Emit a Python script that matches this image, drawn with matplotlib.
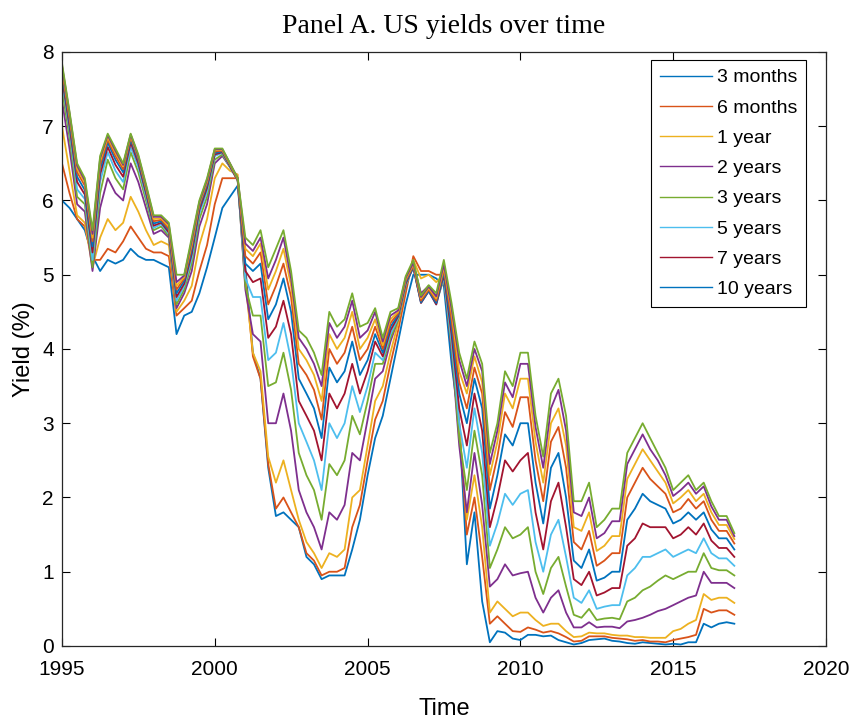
import numpy as np
import pandas as pd
import matplotlib
matplotlib.use('Agg')
import matplotlib.pyplot as plt
import matplotlib.dates as mdates

# Quarterly observation dates
dates = pd.date_range('1995-01-01', '2017-01-01', freq='QS')

# Yields (%) by maturity, shortest to longest
y_3m = [6.0, 5.9, 5.75, 5.6, 5.25, 5.05, 5.2, 5.15, 5.2, 5.35,
        5.25, 5.2, 5.2, 5.15, 5.1, 4.2, 4.45, 4.5, 4.75, 5.1,
        5.5, 5.9, 6.05, 6.2, 5.1, 3.95, 3.6, 2.4, 1.75, 1.8,
        1.7, 1.6, 1.2, 1.1, 0.9, 0.95, 0.95, 0.95, 1.3, 1.7,
        2.3, 2.8, 3.1, 3.6, 4.1, 4.6, 5.0, 5.0, 5.0, 4.95,
        4.85, 3.8, 3.0, 1.1, 1.8, 0.6, 0.05, 0.2, 0.18, 0.1,
        0.08, 0.15, 0.15, 0.13, 0.14, 0.08, 0.05, 0.02, 0.04, 0.08,
        0.09, 0.1, 0.07, 0.06, 0.04, 0.03, 0.05, 0.04, 0.03, 0.02,
        0.03, 0.02, 0.05, 0.05, 0.3, 0.25, 0.3, 0.32, 0.3]
y_6m = [6.5, 6.1, 5.75, 5.65, 5.2, 5.2, 5.35, 5.3, 5.45, 5.65,
        5.5, 5.35, 5.3, 5.3, 5.25, 4.45, 4.55, 4.65, 5.05, 5.4,
        5.95, 6.3, 6.3, 6.3, 5.0, 3.9, 3.6, 2.45, 1.85, 2.0,
        1.8, 1.6, 1.25, 1.15, 0.95, 1.0, 1.0, 1.05, 1.6, 1.9,
        2.5, 3.05, 3.3, 3.8, 4.25, 4.75, 5.25, 5.05, 5.05, 5.0,
        5.0, 4.0, 3.0, 1.5, 2.0, 1.2, 0.3, 0.4, 0.3, 0.2,
        0.19, 0.25, 0.22, 0.18, 0.2, 0.17, 0.12, 0.06, 0.07, 0.13,
        0.13, 0.13, 0.11, 0.1, 0.09, 0.07, 0.08, 0.06, 0.06, 0.05,
        0.08, 0.1, 0.12, 0.15, 0.5, 0.45, 0.48, 0.48, 0.42]
y_1y = [7.0, 6.4, 5.8, 5.7, 5.1, 5.5, 5.75, 5.6, 5.7, 6.05,
        5.85, 5.6, 5.4, 5.45, 5.4, 4.5, 4.65, 4.85, 5.4, 5.75,
        6.3, 6.5, 6.4, 6.35, 4.9, 3.95, 3.7, 2.55, 2.2, 2.5,
        2.1, 1.7, 1.4, 1.25, 1.05, 1.25, 1.2, 1.3, 2.0, 2.1,
        2.7, 3.3, 3.5, 3.95, 4.35, 4.85, 5.2, 4.95, 5.0, 4.9,
        5.0, 4.1, 2.9, 1.7, 2.3, 1.6, 0.45, 0.6, 0.5, 0.4,
        0.45, 0.45, 0.35, 0.27, 0.3, 0.3, 0.2, 0.12, 0.13, 0.18,
        0.17, 0.17, 0.15, 0.14, 0.14, 0.12, 0.12, 0.11, 0.11, 0.11,
        0.2, 0.23, 0.3, 0.35, 0.7, 0.62, 0.65, 0.65, 0.58]
y_2y = [7.35, 6.7, 5.95, 5.85, 5.05, 5.9, 6.3, 6.1, 6.0, 6.5,
        6.25, 5.9, 5.55, 5.6, 5.5, 4.55, 4.75, 5.05, 5.65, 5.95,
        6.5, 6.6, 6.45, 6.3, 4.8, 4.2, 4.1, 3.0, 3.0, 3.4,
        2.9, 2.1, 1.8, 1.6, 1.3, 1.8, 1.7, 1.9, 2.6, 2.5,
        3.05, 3.6, 3.7, 4.1, 4.4, 4.85, 5.15, 4.75, 4.85, 4.7,
        4.95, 4.0, 2.7, 1.8, 2.6, 1.9, 0.8, 0.9, 1.1, 0.95,
        0.98, 1.0, 0.65, 0.45, 0.65, 0.75, 0.45, 0.25, 0.25, 0.32,
        0.25, 0.26, 0.26, 0.24, 0.33, 0.35, 0.38, 0.42, 0.47, 0.5,
        0.55, 0.6, 0.65, 0.68, 1.0, 0.85, 0.85, 0.85, 0.78]
y_3y = [7.5, 6.85, 6.05, 5.95, 5.1, 6.1, 6.55, 6.3, 6.15, 6.65,
        6.38, 6.0, 5.6, 5.65, 5.52, 4.6, 4.8, 5.15, 5.75, 6.05,
        6.55, 6.62, 6.45, 6.28, 4.85, 4.45, 4.45, 3.5, 3.55, 3.95,
        3.45, 2.6, 2.3, 2.1, 1.7, 2.45, 2.3, 2.5, 3.1, 2.85,
        3.3, 3.8, 3.8, 4.15, 4.4, 4.85, 5.12, 4.65, 4.8, 4.62,
        4.95, 4.05, 2.8, 2.1, 2.9, 2.3, 1.05, 1.3, 1.6, 1.45,
        1.5, 1.6, 1.0, 0.7, 1.05, 1.2, 0.8, 0.42, 0.38, 0.5,
        0.35, 0.37, 0.38, 0.36, 0.6, 0.65, 0.75, 0.8, 0.88, 0.95,
        0.9, 0.95, 1.0, 1.0, 1.25, 1.05, 1.02, 1.02, 0.95]
y_4y = [7.6, 6.95, 6.15, 6.02, 5.2, 6.25, 6.65, 6.4, 6.25, 6.72,
        6.45, 6.06, 5.63, 5.68, 5.55, 4.65, 4.85, 5.22, 5.82, 6.12,
        6.6, 6.64, 6.45, 6.27, 4.95, 4.7, 4.7, 3.85, 3.95, 4.35,
        3.85, 3.0, 2.75, 2.5, 2.1, 3.0, 2.8, 3.0, 3.5, 3.15,
        3.5, 3.95, 3.85, 4.2, 4.42, 4.86, 5.1, 4.62, 4.78, 4.6,
        4.97, 4.1, 3.0, 2.4, 3.2, 2.6, 1.35, 1.65, 2.05, 1.9,
        2.05, 2.1, 1.4, 1.0, 1.5, 1.7, 1.2, 0.65, 0.58, 0.75,
        0.5, 0.53, 0.55, 0.55, 0.95, 1.05, 1.2, 1.2, 1.25, 1.3,
        1.2, 1.25, 1.3, 1.25, 1.45, 1.25, 1.18, 1.18, 1.08]
y_5y = [7.65, 7.0, 6.25, 6.08, 5.3, 6.35, 6.72, 6.48, 6.32, 6.78,
        6.5, 6.1, 5.66, 5.7, 5.57, 4.7, 4.88, 5.28, 5.87, 6.17,
        6.62, 6.65, 6.46, 6.27, 5.05, 4.9, 4.95, 4.15, 4.3, 4.65,
        4.2, 3.3, 3.1, 2.9, 2.5, 3.4, 3.2, 3.4, 3.8, 3.4,
        3.7, 4.1, 3.9, 4.25, 4.44, 4.88, 5.1, 4.62, 4.78, 4.6,
        5.0, 4.2, 3.2, 2.7, 3.4, 2.9, 1.6, 2.0, 2.5, 2.35,
        2.5, 2.6, 1.8, 1.3, 1.95, 2.2, 1.6, 0.9, 0.82, 1.0,
        0.68, 0.72, 0.78, 0.78, 1.35, 1.45, 1.65, 1.6, 1.6, 1.6,
        1.45, 1.5, 1.6, 1.5, 1.65, 1.42, 1.32, 1.32, 1.2]
y_6y = [7.7, 7.05, 6.32, 6.14, 5.38, 6.42, 6.78, 6.55, 6.38, 6.82,
        6.54, 6.13, 5.69, 5.72, 5.6, 4.75, 4.92, 5.33, 5.91, 6.21,
        6.64, 6.66, 6.47, 6.28, 5.15, 5.05, 5.15, 4.4, 4.6, 4.95,
        4.5, 3.6, 3.4, 3.2, 2.8, 3.75, 3.55, 3.7, 4.1, 3.65,
        3.85, 4.2, 3.95, 4.3, 4.46, 4.9, 5.1, 4.63, 4.78, 4.62,
        5.03, 4.3, 3.4, 3.0, 3.6, 3.2, 1.85, 2.3, 2.85, 2.7,
        3.0, 3.0, 2.2, 1.65, 2.4, 2.6, 2.0, 1.15, 1.05, 1.3,
        0.88, 0.92, 1.0, 1.0, 1.7, 1.85, 2.05, 1.95, 1.9, 1.85,
        1.65, 1.7, 1.8, 1.7, 1.8, 1.57, 1.45, 1.45, 1.3]
y_7y = [7.75, 7.1, 6.38, 6.2, 5.45, 6.48, 6.82, 6.6, 6.42, 6.85,
        6.57, 6.16, 5.72, 5.74, 5.62, 4.8, 4.95, 5.38, 5.94, 6.24,
        6.66, 6.67, 6.48, 6.28, 5.25, 5.15, 5.3, 4.6, 4.85, 5.15,
        4.7, 3.8, 3.65, 3.45, 3.05, 4.0, 3.8, 3.95, 4.3, 3.85,
        4.0, 4.3, 4.0, 4.35, 4.48, 4.92, 5.12, 4.65, 4.8, 4.65,
        5.07, 4.4, 3.55, 3.2, 3.75, 3.4, 2.1, 2.55, 3.15, 2.95,
        3.35, 3.35, 2.5, 1.95, 2.75, 2.95, 2.4, 1.4, 1.3, 1.55,
        1.08, 1.15, 1.25, 1.25, 2.0, 2.2, 2.4, 2.25, 2.15, 2.05,
        1.8, 1.85, 1.98, 1.85, 1.95, 1.7, 1.55, 1.55, 1.38]
y_8y = [7.8, 7.15, 6.43, 6.24, 5.5, 6.53, 6.85, 6.64, 6.46, 6.87,
        6.59, 6.18, 5.75, 5.76, 5.65, 4.85, 4.97, 5.42, 5.96, 6.26,
        6.68, 6.68, 6.49, 6.29, 5.35, 5.25, 5.42, 4.8, 5.05, 5.35,
        4.85, 4.0, 3.85, 3.65, 3.3, 4.2, 4.0, 4.15, 4.5, 4.0,
        4.15, 4.4, 4.05, 4.4, 4.5, 4.94, 5.14, 4.68, 4.82, 4.68,
        5.1, 4.5, 3.7, 3.4, 3.9, 3.55, 2.3, 2.75, 3.4, 3.2,
        3.6, 3.6, 2.75, 2.2, 3.0, 3.2, 2.7, 1.6, 1.55, 1.8,
        1.28, 1.35, 1.48, 1.48, 2.25, 2.45, 2.65, 2.5, 2.35, 2.2,
        1.92, 2.0, 2.1, 1.95, 2.05, 1.8, 1.63, 1.63, 1.44]
y_9y = [7.82, 7.18, 6.47, 6.27, 5.55, 6.57, 6.88, 6.67, 6.48, 6.89,
        6.6, 6.2, 5.78, 5.78, 5.68, 4.9, 4.99, 5.46, 5.98, 6.28,
        6.69, 6.69, 6.5, 6.3, 5.42, 5.32, 5.5, 4.95, 5.2, 5.5,
        4.95, 4.15, 4.0, 3.8, 3.5, 4.35, 4.15, 4.3, 4.65, 4.15,
        4.25, 4.5, 4.1, 4.45, 4.52, 4.96, 5.16, 4.7, 4.84, 4.71,
        5.14, 4.55, 3.85, 3.5, 4.0, 3.7, 2.45, 2.9, 3.55, 3.35,
        3.8, 3.8, 2.95, 2.4, 3.2, 3.45, 2.9, 1.8, 1.75, 2.0,
        1.45, 1.52, 1.68, 1.68, 2.45, 2.65, 2.85, 2.65, 2.5, 2.3,
        2.02, 2.1, 2.2, 2.05, 2.15, 1.88, 1.7, 1.7, 1.48]
y_10y = [7.85, 7.2, 6.5, 6.3, 5.6, 6.6, 6.9, 6.7, 6.5, 6.9,
         6.62, 6.22, 5.8, 5.8, 5.7, 5.0, 5.0, 5.5, 6.0, 6.3,
         6.7, 6.7, 6.5, 6.3, 5.5, 5.4, 5.6, 5.1, 5.35, 5.6,
         5.05, 4.25, 4.15, 3.95, 3.65, 4.5, 4.3, 4.4, 4.75, 4.3,
         4.35, 4.55, 4.15, 4.5, 4.55, 4.98, 5.2, 4.72, 4.86, 4.75,
         5.2, 4.62, 3.95, 3.6, 4.1, 3.8, 2.6, 3.0, 3.7, 3.5,
         3.95, 3.95, 3.1, 2.55, 3.4, 3.6, 3.1, 1.95, 1.95, 2.2,
         1.6, 1.7, 1.85, 1.85, 2.6, 2.8, 3.0, 2.8, 2.6, 2.4,
         2.1, 2.2, 2.3, 2.1, 2.2, 1.95, 1.75, 1.75, 1.52]

series = [y_3m, y_6m, y_1y, y_2y, y_3y, y_4y, y_5y, y_6y, y_7y, y_8y, y_9y, y_10y]
legend_labels = ['3 months', '6 months', '1 year', '2 years', '3 years',
                 '5 years', '7 years', '10 years']

# MATLAB default line colour order
colors = ['#0072BD', '#D95319', '#EDB120', '#7E2F8E', '#77AC30', '#4DBEEE', '#A2142F']

plt.rcParams['font.family'] = ['Liberation Sans', 'DejaVu Sans']

fig = plt.figure(figsize=(8.56, 7.2), dpi=100)
ax = fig.add_axes([0.0724, 0.1028, 0.8925, 0.825])

lines = []
for i, ys in enumerate(series):
    ln, = ax.plot(dates, ys, color=colors[i % len(colors)], linewidth=1.3)
    lines.append(ln)

ax.set_xlim(pd.Timestamp('1995-01-01'), pd.Timestamp('2020-01-01'))
ax.set_ylim(0, 8)
ax.set_xticks([pd.Timestamp(f'{y}-01-01') for y in range(1995, 2021, 5)])
ax.xaxis.set_major_formatter(mdates.DateFormatter('%Y'))
ax.set_yticks(range(0, 9))

ax.tick_params(direction='in', length=6, width=0.8, top=True, right=True,
               labelsize=15)
ax.tick_params(axis='x', pad=10)
ax.tick_params(axis='y', pad=6)
for sp in ax.spines.values():
    sp.set_linewidth(0.9)
    sp.set_color('#262626')

ax.set_xlabel('Time', fontsize=17, labelpad=14)
ax.set_ylabel('Yield (%)', fontsize=17, labelpad=5)
ax.set_title('Panel A. US yields over time', fontsize=20,
             family=['Liberation Serif', 'DejaVu Serif'], pad=14)

leg = ax.legend(lines[:8], legend_labels, loc='upper right',
                bbox_to_anchor=(0.974, 0.9865), borderaxespad=0,
                fontsize=14, fancybox=False, edgecolor='black',
                framealpha=1, handlelength=2.7, handletextpad=0.25,
                labelspacing=0.65, borderpad=0.45)
leg.get_frame().set_linewidth(0.8)
for h in leg.get_lines():
    h.set_linewidth(1.0)

fig.savefig('out.png', dpi=100)
